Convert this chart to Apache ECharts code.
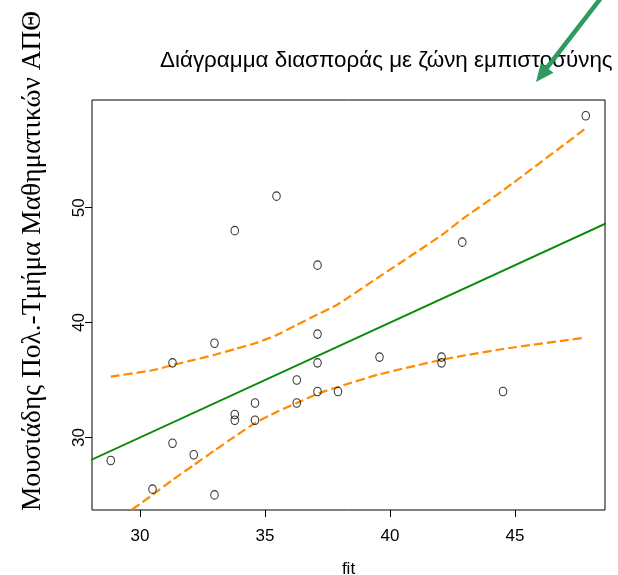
<!DOCTYPE html>
<html>
<head>
<meta charset="utf-8">
<style>
  html, body { margin: 0; padding: 0; background: #ffffff; }
  #chart { width: 618px; height: 575px; }
</style>
<script src="https://cdn.jsdelivr.net/npm/echarts@6/dist/echarts.min.js"></script>
</head>
<body>
<div id="chart"></div>
<script>
// Observed values against fitted values
const fitValues = [28.83, 30.5, 31.3, 31.3, 32.15, 32.98, 32.98, 33.79, 33.79, 34.6, 34.6, 36.27, 36.27,
                   37.1, 37.1, 37.1, 37.92, 39.58, 42.06, 42.06, 44.52, 33.79, 35.46, 37.1, 42.89, 47.83];
const observed  = [28.0, 25.5, 36.5, 29.5, 28.5, 38.2, 25.0, 32.0, 31.5, 33.0, 31.5, 35.0, 33.0,
                   39.0, 36.5, 34.0, 34.0, 37.0, 37.0, 36.5, 34.0, 48.0, 51.0, 45.0, 47.0, 58.0];

// Reference line y = fit
const refLineX = [28, 49];
const refLineY = [28, 49];

// Confidence band, evaluated at the sorted fitted values
const bandX     = [28.83, 30.5, 31.3, 32.15, 33.0, 33.8, 34.6, 35.45, 36.27, 37.1, 37.92, 39.58, 42.06, 42.89, 44.52, 47.83];
const bandUpper = [35.3, 35.85, 36.3, 36.75, 37.2, 37.7, 38.2, 38.9, 39.8, 40.7, 41.6, 44.0, 47.6, 49.0, 51.5, 56.9];
const bandLower = [22.4, 25.0, 26.3, 27.6, 28.9, 30.1, 31.25, 32.2, 33.0, 33.8, 34.4, 35.5, 36.76, 37.1, 37.7, 38.7];

// Axis ticks
const xTicks = [30, 35, 40, 45];
const yTicks = [30, 40, 50];

const titleText = 'Διάγραμμα διασποράς με ζώνη εμπιστοσύνης';
const xName = 'fit';
const sideText = 'Μουσιάδης Πολ.-Τμήμα Μαθηματικών ΑΠΘ';

const zip = (a, b) => a.map((v, i) => [v, b[i]]);

const chart = echarts.init(document.getElementById('chart'), null, { renderer: 'canvas' });

const labelFont = { fontFamily: 'Liberation Sans, Arial, sans-serif', fontSize: 17, color: '#000' };
const bandStyle = { color: '#ff8c00', width: 2.2, type: [9, 4] };

chart.setOption({
  animation: false,
  backgroundColor: '#ffffff',
  grid: {
    left: 92, right: 13, top: 100, bottom: 65,
    outerBoundsMode: 'none',
    containLabel: false,
    show: true, borderColor: '#000', borderWidth: 1, backgroundColor: 'transparent'
  },
  xAxis: {
    type: 'value',
    min: 28.08, max: 48.6,
    name: xName,
    nameLocation: 'middle',
    nameGap: 51,
    nameTextStyle: labelFont,
    axisLine: { show: false },
    axisTick: { show: true, length: 7, customValues: xTicks, lineStyle: { color: '#000', width: 1 } },
    axisLabel: { customValues: xTicks, margin: 18, ...labelFont },
    splitLine: { show: false }
  },
  yAxis: {
    type: 'value',
    min: 23.69, max: 59.37,
    axisLine: { show: false },
    axisTick: { show: true, length: 7, customValues: yTicks, lineStyle: { color: '#000', width: 1 } },
    axisLabel: { customValues: yTicks, rotate: 90, margin: 4, ...labelFont },
    splitLine: { show: false }
  },
  series: [
    {
      type: 'line',
      data: zip(refLineX, refLineY),
      symbol: 'none',
      clip: true,
      lineStyle: { color: '#0a8a0a', width: 2 },
      z: 2
    },
    {
      type: 'line',
      data: zip(bandX, bandUpper),
      symbol: 'none',
      smooth: 0.2,
      clip: true,
      lineStyle: bandStyle,
      z: 2
    },
    {
      type: 'line',
      data: zip(bandX, bandLower),
      symbol: 'none',
      smooth: 0.2,
      clip: true,
      lineStyle: bandStyle,
      z: 2
    },
    {
      type: 'scatter',
      data: zip(fitValues, observed),
      symbol: 'circle',
      symbolSize: [7.5, 8.5],
      itemStyle: { color: 'rgba(255,255,255,0)', borderColor: '#000', borderWidth: 1.1 },
      z: 3
    }
  ],
  graphic: [
    {
      type: 'text',
      left: 160, top: 50,
      style: { text: titleText, font: '22.4px "Liberation Sans", Arial, sans-serif', fill: '#000' }
    },
    {
      type: 'text',
      x: 33, y: 261,
      rotation: Math.PI / 2,
      style: {
        text: sideText,
        font: '27.4px "Liberation Serif", "Times New Roman", serif',
        fill: '#000', align: 'center', verticalAlign: 'middle'
      }
    },
    {
      type: 'group',
      children: [
        {
          type: 'line',
          shape: { x1: 604, y1: -6, x2: 546, y2: 69 },
          style: { stroke: '#2e9a62', lineWidth: 4.5 }
        },
        {
          type: 'polygon',
          shape: { points: [[536, 82], [553.4, 72.7], [540.8, 62.9]] },
          style: { fill: '#2e9a62' }
        }
      ]
    }
  ]
});
</script>
</body>
</html>
